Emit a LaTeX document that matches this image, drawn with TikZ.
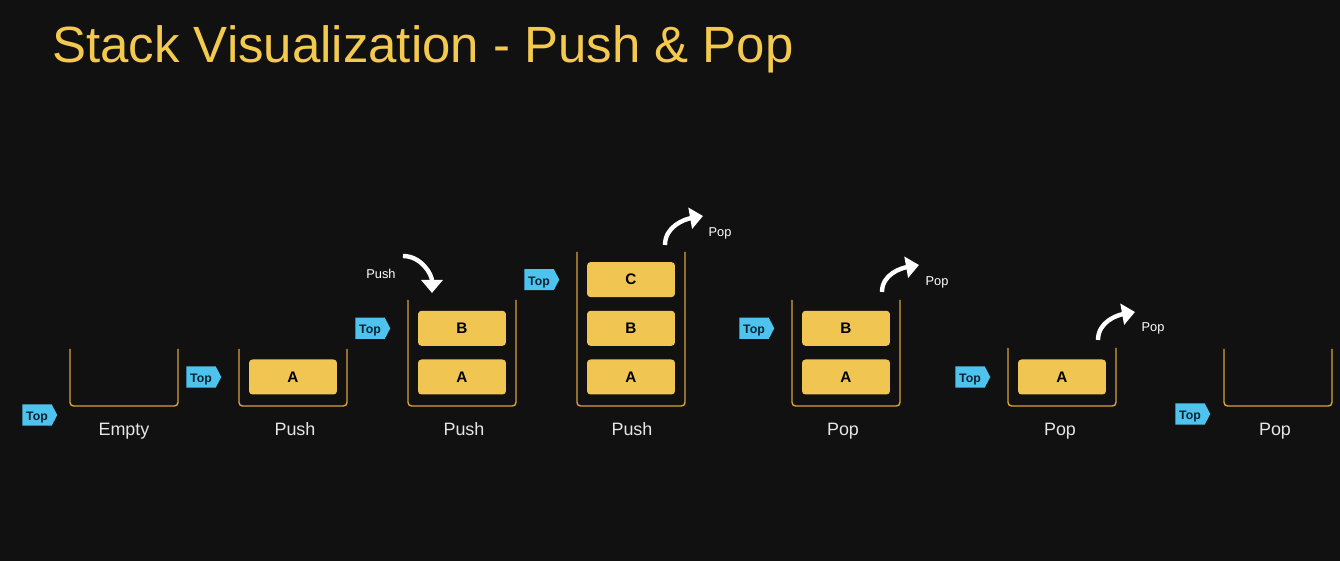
\documentclass[tikz,border=0pt]{standalone}
\usepackage{fontspec}
\setmainfont{Liberation Sans}
\usetikzlibrary{arrows.meta,positioning,shapes.symbols}

\definecolor{bgdark}{HTML}{111111}
\definecolor{titleyellow}{HTML}{F3C94E}
\definecolor{blockyellow}{HTML}{F0C552}
\definecolor{wellgold}{HTML}{D8A43A}
\definecolor{tagblue}{HTML}{4EC3EE}
\definecolor{tagtext}{HTML}{0B2233}
\definecolor{labelgray}{HTML}{E6E6E6}

\begin{document}
\begin{tikzpicture}[
  x=0.02cm,y=0.02cm,
  title/.style   ={anchor=base west,inner sep=0pt,text=titleyellow,
                   font=\fontsize{29}{34}\selectfont},
  well/.style    ={draw=wellgold,line width=0.8pt,rounded corners=2pt},
  block/.style   ={fill=blockyellow,rounded corners=2pt,minimum width=1.76cm,
                   minimum height=0.7cm,inner sep=0pt,text=black,
                   font=\fontsize{8.7}{10}\selectfont\bfseries},
  toptag/.style  ={signal,signal to=east,signal pointer angle=125,fill=tagblue,
                   text=tagtext,minimum width=0.7cm,minimum height=0.38cm,
                   inner sep=1pt,text height=1.55ex,text depth=0.35ex,
                   font=\fontsize{7}{8}\selectfont\bfseries},
  caption/.style ={anchor=base,text=labelgray,font=\fontsize{10.2}{12}\selectfont},
  oplabel/.style ={text=white,font=\fontsize{7.3}{9}\selectfont},
  bigarrow/.style={draw=white,line width=2.5pt,
                   -{Triangle[length=0.26cm,width=0.42cm]}},
]

%% background and frame
\useasboundingbox (0,0) rectangle (1340,561);
\fill[bgdark] (0,0) rectangle (1340,561);

\node[title] (title) at (52,498) {Stack Visualization - Push \& Pop};

%% ======================================================
%% Stack wells (open boxes)
%% ======================================================
\draw[well] (70,212)   |- (178,155)  -- (178,212);
\draw[well] (239,212)  |- (347,155)  -- (347,212);
\draw[well] (408,261)  |- (516,155)  -- (516,261);
\draw[well] (577,309)  |- (685,155)  -- (685,309);
\draw[well] (792,261)  |- (900,155)  -- (900,261);
\draw[well] (1008,213) |- (1116,155) -- (1116,213);
\draw[well] (1224,212) |- (1332,155) -- (1332,212);

%% --- captions ---
\node[caption] (capEmpty) at (124,125)  {Empty};
\node[caption] (capPushA) at (295,125)  {Push};
\node[caption] (capPushB) at (464,125)  {Push};
\node[caption] (capPushC) at (632,125)  {Push};
\node[caption] (capPopC)  at (843,125)  {Pop};
\node[caption] (capPopB)  at (1060,125) {Pop};
\node[caption] (capPopA)  at (1275,125) {Pop};

%% ======================================================
%% Elements
%% ======================================================
% --- push A ---
\node[block] (a2) at (293,184) {A};

% --- push B ---
\node[block] (a3) at (462,184) {A};
\node[block,above=0.26cm of a3] (b3) {B};

% --- push C ---
\node[block] (a4) at (631,184) {A};
\node[block,above=0.26cm of a4] (b4) {B};
\node[block,above=0.26cm of b4] (c4) {C};

% --- pop C ---
\node[block] (a5) at (846,184) {A};
\node[block,above=0.26cm of a5] (b5) {B};

% --- pop B ---
\node[block] (a6) at (1062,184) {A};

%% --- top pointers ---
\node[toptag] (top1) at (37,146) {Top};
\node[toptag,left=0.54cm of a2] (top2) {Top};
\node[toptag,left=0.54cm of b3] (top3) {Top};
\node[toptag,left=0.54cm of c4] (top4) {Top};
\node[toptag,left=0.54cm of b5] (top5) {Top};
\node[toptag,left=0.54cm of a6] (top6) {Top};
\node[toptag] (top7) at (1190,147) {Top};

%% ======================================================
%% Push / pop arrows
%% ======================================================
\coordinate (pushS) at (403,305);
\coordinate (pushE) at (432,268);
\draw[bigarrow] (pushS) to[out=0,in=90] (pushE);
\node[oplabel] (pushLbl) at (381,287) {Push};

\coordinate (popS4) at (665,316);
\coordinate (popE4) at (703,345);
\draw[bigarrow] (popS4) to[out=90,in=190] (popE4);
\node[oplabel] (popLbl4) at (720,328) {Pop};

\coordinate (popS5) at (882,269);
\coordinate (popE5) at (919,296);
\draw[bigarrow] (popS5) to[out=90,in=190] (popE5);
\node[oplabel] (popLbl5) at (937,279) {Pop};

\coordinate (popS6) at (1098,221);
\coordinate (popE6) at (1135,249);
\draw[bigarrow] (popS6) to[out=90,in=190] (popE6);
\node[oplabel] (popLbl6) at (1153,233) {Pop};

\end{tikzpicture}
\end{document}
